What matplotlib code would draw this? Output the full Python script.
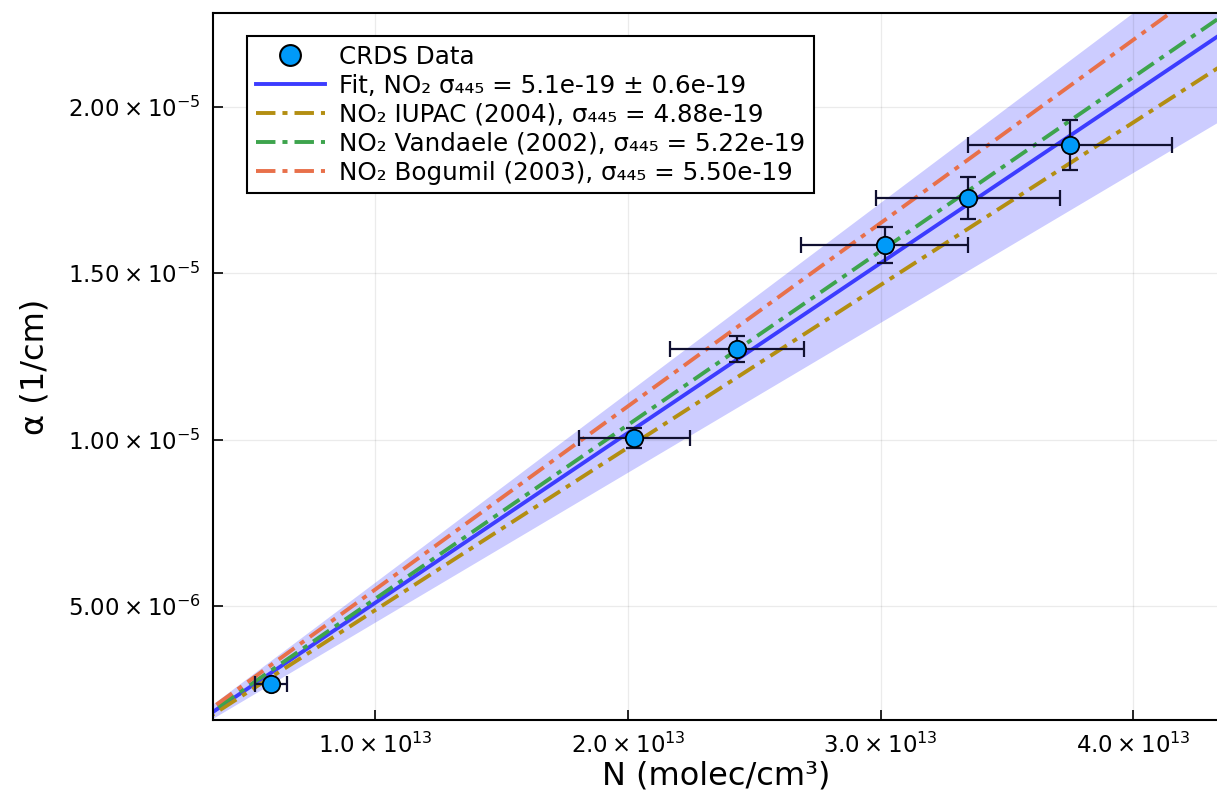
import numpy as np
import matplotlib
matplotlib.use("Agg")
import matplotlib.pyplot as plt
from matplotlib.lines import Line2D

plt.rcParams['font.family'] = ['DejaVu Sans']
plt.rcParams['mathtext.fontset'] = 'dejavusans'

# CRDS measurements
N = [5.87e12, 2.025e13, 2.43e13, 3.016e13, 3.345e13, 3.75e13]
N_err = [0.063e13, 0.22e13, 0.265e13, 0.33e13, 0.365e13, 0.405e13]
alpha = [2.66e-6, 1.005e-5, 1.272e-5, 1.584e-5, 1.725e-5, 1.884e-5]
alpha_err = [0.0, 0.3e-6, 0.4e-6, 0.54e-6, 0.62e-6, 0.75e-6]

# cross sections (cm^2)
sigma_fit = 5.1e-19
sigma_fit_err = 0.6e-19
sigma_iupac = 4.88e-19
sigma_vandaele = 5.22e-19
sigma_bogumil = 5.50e-19

xticks = [1e13, 2e13, 3e13, 4e13]
xtick_labels = [r'$1.0\times10^{13}$', r'$2.0\times10^{13}$', r'$3.0\times10^{13}$', r'$4.0\times10^{13}$']
yticks = [5e-6, 1e-5, 1.5e-5, 2e-5]
ytick_labels = [r'$5.00\times10^{-6}$', r'$1.00\times10^{-5}$', r'$1.50\times10^{-5}$', r'$2.00\times10^{-5}$']

fig = plt.figure(figsize=(12.17, 8.10), dpi=100)
ax = fig.add_axes([213 / 1217, (810 - 720) / 810, 1006 / 1217, 707 / 810])

xx = np.linspace(0, 5e13, 200)
dash = (0, (5, 1.8, 1.3, 1.8))

ax.fill_between(xx, (sigma_fit - sigma_fit_err) * xx, (sigma_fit + sigma_fit_err) * xx,
                color='#0000ff', alpha=0.2, linewidth=0)
ax.plot(xx, sigma_fit * xx, color='#3c3cff', lw=2.8)
ax.plot(xx, sigma_iupac * xx, color='#b38e12', lw=2.8, linestyle=dash)
ax.plot(xx, sigma_vandaele * xx, color='#3da44d', lw=2.8, linestyle=dash)
ax.plot(xx, sigma_bogumil * xx, color='#e8704a', lw=2.8, linestyle=dash)

ax.errorbar(N, alpha, xerr=N_err, yerr=alpha_err, fmt='none', ecolor='#101030',
            elinewidth=1.6, capsize=5.5, capthick=1.6, zorder=4)
ax.plot(N, alpha, 'o', markersize=12.5, markerfacecolor='#009af9',
        markeredgecolor='black', markeredgewidth=1.3, zorder=5)

ax.set_xlim(3.57e12, 4.34e13)
ax.set_ylim(1.577e-6, 2.281e-5)
ax.set_xticks(xticks)
ax.set_xticklabels(xtick_labels)
ax.set_yticks(yticks)
ax.set_yticklabels(ytick_labels)
ax.tick_params(direction='in', length=7, width=1.2, labelsize=16.5, pad=9)
ax.grid(True, color='black', alpha=0.08, linewidth=0.9)
for s in ax.spines.values():
    s.set_linewidth(1.5)

ax.set_xlabel('N (molec/cm³)', fontsize=23, labelpad=2)
ax.set_ylabel('α (1/cm)', fontsize=23, labelpad=12)

handles = [
    Line2D([], [], linestyle='none', marker='o', markersize=15, markerfacecolor='#009af9',
           markeredgecolor='black', markeredgewidth=1.5),
    Line2D([], [], color='#3c3cff', lw=2.8),
    Line2D([], [], color='#b38e12', lw=2.8, linestyle=dash),
    Line2D([], [], color='#3da44d', lw=2.8, linestyle=dash),
    Line2D([], [], color='#e8704a', lw=2.8, linestyle=dash),
]
labels = [
    'CRDS Data',
    'Fit, NO₂ σ₄₄₅ = 5.1e-19 ± 0.6e-19',
    'NO₂ IUPAC (2004), σ₄₄₅ = 4.88e-19',
    'NO₂ Vandaele (2002), σ₄₄₅ = 5.22e-19',
    'NO₂ Bogumil (2003), σ₄₄₅ = 5.50e-19',
]
leg = ax.legend(handles, labels, loc='upper left', bbox_to_anchor=(0.034, 0.967),
                fontsize=17.7, frameon=True, fancybox=False, framealpha=1,
                edgecolor='black', handlelength=2.8, handletextpad=0.6,
                labelspacing=0.2, borderpad=0.35, borderaxespad=0)
leg.get_frame().set_linewidth(1.5)

fig.savefig('out.png', dpi=100)
